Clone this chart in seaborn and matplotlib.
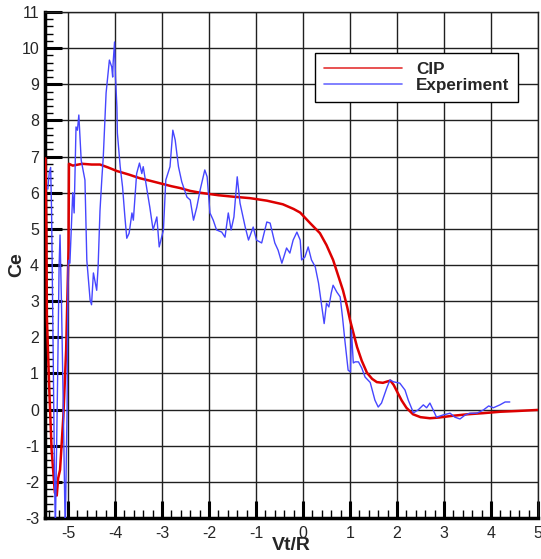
import matplotlib
matplotlib.use("Agg")
import matplotlib.pyplot as plt
import seaborn as sns
import pandas as pd
from matplotlib.ticker import MultipleLocator

cip_x = [-5.48, -5.46, -5.45, -5.40, -5.35, -5.28, -5.24, -5.21, -5.17, -5.10, -5.04, -4.99, -4.98,
         -4.9, -4.7, -4.5, -4.32, -4.15, -3.96, -3.7, -3.47, -3.25, -3.04, -2.8, -2.62, -2.4, -2.19,
         -1.8, -1.49, -1.13, -0.77, -0.43, -0.2, -0.06, 0.15, 0.36, 0.5, 0.64, 0.85, 0.94, 1.0, 1.15,
         1.25, 1.36, 1.47, 1.57, 1.7, 1.8, 1.86, 1.93, 2.02, 2.1, 2.2, 2.34, 2.5, 2.7, 2.9, 3.13, 3.5,
         3.83, 4.2, 4.55, 5.0]
cip_y = [6.95, 5.0, 2.56, 0.6, -1.1, -2.3, -2.38, -1.9, -1.67, -0.2, 1.65, 4.4, 6.8,
         6.75, 6.8, 6.78, 6.78, 6.7, 6.6, 6.5, 6.4, 6.33, 6.26, 6.18, 6.13, 6.05, 6.0,
         5.93, 5.89, 5.85, 5.78, 5.68, 5.55, 5.45, 5.16, 4.88, 4.55, 4.14, 3.3, 2.84, 2.48, 1.73,
         1.35, 1.02, 0.85, 0.76, 0.74, 0.78, 0.8, 0.68, 0.45, 0.25, 0.05, -0.13, -0.21, -0.24, -0.22, -0.18, -0.13,
         -0.1, -0.06, -0.04, -0.01]

exp_x = [-5.43, -5.40, -5.37, -5.35, -5.32, -5.29, -5.27, -5.22, -5.19, -5.17, -5.14, -5.10, -5.06,
         -5.02, -5.00, -4.99, -4.96, -4.93, -4.90, -4.87, -4.83, -4.80, -4.77, -4.72, -4.64, -4.60,
         -4.53, -4.50, -4.46, -4.39, -4.36, -4.32, -4.28, -4.25, -4.19, -4.12, -4.07, -4.05, -4.04,
         -4.01, -3.99, -3.96, -3.95, -3.89, -3.84, -3.79, -3.75, -3.70, -3.64, -3.61, -3.54, -3.48,
         -3.43, -3.40, -3.33, -3.26, -3.19, -3.11, -3.06, -2.97, -2.92, -2.83, -2.77, -2.72, -2.65,
         -2.58, -2.47, -2.40, -2.33, -2.26, -2.19, -2.09, -2.04, -1.98, -1.91, -1.84, -1.73, -1.66,
         -1.59, -1.53, -1.47, -1.40, -1.34, -1.23, -1.16, -1.06, -0.99, -0.88, -0.77, -0.70, -0.60,
         -0.53, -0.45, -0.35, -0.28, -0.21, -0.13, -0.06, -0.03, 0.04, 0.11, 0.18, 0.26, 0.33, 0.40,
         0.45, 0.50, 0.55, 0.60, 0.64, 0.72, 0.79, 0.84, 0.89, 0.96, 1.01, 1.03, 1.07, 1.11, 1.18,
         1.25, 1.32, 1.43, 1.53, 1.60, 1.67, 1.78, 1.85, 1.92, 2.06, 2.17, 2.24, 2.35, 2.45, 2.56,
         2.63, 2.70, 2.77, 2.84, 2.98, 3.13, 3.23, 3.34, 3.45, 3.55, 3.70, 3.84, 3.95, 4.05, 4.19,
         4.30, 4.40]
exp_y = [6.1, 6.55, 6.7, 5.5, 2.0, -1.5, -3.4, 1.0, 4.0, 4.83, 3.0, 0.0, -3.4,
         0.0, 3.9, 4.13, 4.05, 5.0, 6.0, 5.44, 7.82, 7.73, 8.15, 6.9, 6.35, 4.13,
         3.03, 2.9, 3.78, 3.3, 3.95, 5.5, 6.4, 6.99, 8.76, 9.67, 9.48, 9.2, 9.6,
         10.17, 9.2, 8.37, 7.65, 6.72, 6.16, 5.33, 4.74, 4.88, 5.44, 5.24, 6.53, 6.82,
         6.53, 6.72, 6.16, 5.6, 4.97, 5.33, 4.5, 4.97, 6.35, 6.72, 7.73, 7.46, 6.72,
         6.3, 5.88, 5.8, 5.24, 5.6, 6.07, 6.63, 6.44, 5.44, 5.24, 4.97, 4.91, 4.77,
         5.44, 4.97, 5.33, 6.44, 5.71, 5.05, 4.69, 5.05, 4.69, 4.61, 5.19, 5.16, 4.61,
         4.41, 4.05, 4.47, 4.33, 4.69, 4.91, 4.69, 4.14, 4.22, 4.5, 4.14, 3.95, 3.5, 2.84,
         2.38, 2.94, 2.84, 3.22, 3.44, 3.25, 3.12, 2.56, 1.92, 1.09, 1.04, 2.2, 1.29, 1.32, 1.32,
         1.15, 0.9, 0.75, 0.26, 0.07, 0.18, 0.59, 0.82, 0.77, 0.73, 0.54, 0.26, -0.09, -0.01, 0.13,
         0.05, 0.18, -0.01, -0.21, -0.15, -0.1, -0.21, -0.26, -0.15, -0.1, -0.1, -0.01, 0.1, 0.05, 0.13,
         0.21, 0.21]

x_ticks = [-5, -4, -3, -2, -1, 0, 1, 2, 3, 4, 5]
y_ticks = [-3, -2, -1, 0, 1, 2, 3, 4, 5, 6, 7, 8, 9, 10, 11]

sns.set_style("white")
plt.rcParams['font.family'] = ['Liberation Sans', 'DejaVu Sans']
plt.rcParams['axes.unicode_minus'] = False

fig = plt.figure(figsize=(5.41, 5.59), dpi=100)
ax = fig.add_axes([45/541, 41/559, 493/541, 506/559])

cip = pd.DataFrame({"x": cip_x, "y": cip_y})
exp = pd.DataFrame({"x": exp_x, "y": exp_y})
sns.lineplot(data=cip, x="x", y="y", sort=False, estimator=None, ax=ax,
             color="#dd0000", linewidth=1.8, label="CIP", zorder=3)
sns.lineplot(data=exp, x="x", y="y", sort=False, estimator=None, ax=ax,
             color="#4646ff", linewidth=1.0, label="Experiment", zorder=4)

ax.set_xlim(-5.49, 5.0)
ax.set_ylim(-3, 11)
ax.set_xticks(x_ticks)
ax.set_yticks(y_ticks)
ax.set_xticklabels([str(v) for v in x_ticks])
ax.set_yticklabels([str(v) for v in y_ticks])
ax.xaxis.set_minor_locator(MultipleLocator(0.2))
ax.yaxis.set_minor_locator(MultipleLocator(0.2))
ax.grid(True, which="major", color="#202020", linewidth=1.0)
ax.set_axisbelow(True)

ax.tick_params(axis="both", which="both", bottom=True, left=True, top=False, right=False)
ax.tick_params(axis="both", which="major", direction="in", length=12, width=2.2,
               labelsize=11.5, color="black")
ax.tick_params(axis="both", which="minor", direction="in", length=6, width=1.0, color="black")
ax.tick_params(axis="y", which="major", pad=4.3)
ax.tick_params(axis="x", which="major", pad=5.8)

for side in ["left", "bottom"]:
    ax.spines[side].set_linewidth(2.5)
    ax.spines[side].set_color("black")
for side in ["top", "right"]:
    ax.spines[side].set_linewidth(1.0)
    ax.spines[side].set_color("#202020")

ax.set_xlabel("Vt/R", fontsize=14, fontweight="bold")
ax.set_ylabel("Ce", fontsize=14, fontweight="bold")
ax.xaxis.set_label_coords((291.5 - 45) / 493, (518 - 546) / 506)
ax.yaxis.set_label_coords((17 - 45) / 493, 0.5)
ax.xaxis.label.set_va("center")
ax.yaxis.label.set_va("center")

leg = ax.legend(loc="upper right", bbox_to_anchor=(0.959, 0.919), borderaxespad=0,
                fancybox=False, shadow=False, framealpha=1, edgecolor="black",
                handlelength=4.6, handletextpad=0.8, labelspacing=0.1, borderpad=0.5,
                prop={"weight": "bold", "size": 12.3})
leg.get_frame().set_linewidth(1.0)
for line in leg.get_lines():
    line.set_linewidth(1.2)
    line.set_alpha(0.8)

fig.savefig("out.png", dpi=100)
